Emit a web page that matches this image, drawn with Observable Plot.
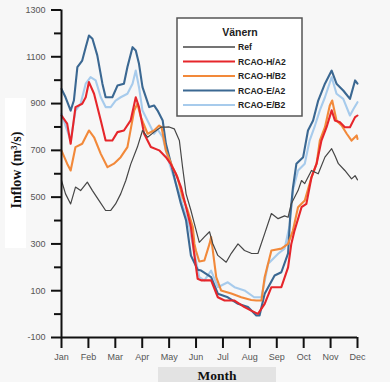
<!DOCTYPE html>
<html><head><meta charset="utf-8">
<script src="https://cdn.jsdelivr.net/npm/d3@7"></script>
<script src="https://cdn.jsdelivr.net/npm/@observablehq/plot@0.6"></script>
<style>
html,body{margin:0;padding:0;background:#f7f7f7;}
#chart{width:390px;height:382px;overflow:hidden;}
</style></head><body><div id="chart"></div>
<script>
const months = ["Jan","Feb","Mar","Apr","May","Jun","Jul","Aug","Sep","Oct","Nov","Dec"];
const yMajorTicks = [-100,100,300,500,700,900,1100,1300];
const yMinorTicks = [0,200,400,600,800,1000,1200];
const legendTitle = "Vänern";
const seriesNames = ["Ref","RCAO-H/A2","RCAO-H/B2","RCAO-E/A2","RCAO-E/B2"];
const seriesColors = ["#464646","#e6262b","#f2893a","#3b6892","#a7cbec"];

// [month position (0 = Jan), inflow m3/s]
const refSeries = [[0,571],[0.15,514],[0.34,471],[0.52,543],[0.71,528],[0.96,564],[1.15,528],[1.39,486],[1.64,443],[1.83,443],[2.01,471],[2.2,514],[2.39,571],[2.57,640],[2.82,714],[3.01,785],[3.2,756],[3.44,778],[3.69,799],[3.88,799],[4.0,800],[4.19,792],[4.38,742],[4.5,628],[4.63,514],[4.81,443],[4.94,386],[5.12,307],[5.31,330],[5.5,352],[5.62,302],[5.81,251],[6.12,222],[6.31,260],[6.56,300],[6.8,272],[7.05,260],[7.3,259],[7.55,344],[7.8,430],[8.05,408],[8.29,420],[8.42,414],[8.54,472],[8.79,528],[8.92,571],[9.04,558],[9.29,614],[9.54,600],[9.79,671],[10.04,707],[10.16,678],[10.29,643],[10.53,614],[10.78,578],[10.91,592],[11.0,574]];
const rcaoHA2 = [[0,849],[0.21,814],[0.34,728],[0.52,885],[0.77,899],[0.9,927],[1.02,992],[1.21,942],[1.46,828],[1.64,742],[1.89,742],[2.08,778],[2.32,785],[2.57,828],[2.76,927],[2.88,885],[3.07,771],[3.32,714],[3.63,700],[3.88,671],[4.07,640],[4.25,600],[4.44,543],[4.63,457],[4.81,372],[4.94,250],[5.06,151],[5.19,144],[5.56,144],[5.81,72],[6.06,58],[6.43,58],[6.8,30],[7.05,15],[7.3,1],[7.55,44],[7.8,115],[8.17,115],[8.42,200],[8.54,300],[8.66,357],[8.92,457],[9.1,471],[9.29,585],[9.48,643],[9.66,742],[9.85,799],[10.04,871],[10.16,828],[10.35,820],[10.53,799],[10.72,799],[10.91,842],[11.0,849]];
const rcaoHB2 = [[0,699],[0.21,643],[0.34,614],[0.52,714],[0.77,728],[1.02,785],[1.21,756],[1.46,685],[1.71,628],[1.95,643],[2.2,671],[2.45,714],[2.7,870],[2.82,899],[2.95,842],[3.2,771],[3.44,785],[3.63,806],[3.72,799],[3.88,699],[4.13,628],[4.31,585],[4.5,500],[4.69,443],[4.88,372],[4.94,300],[5.0,270],[5.12,225],[5.31,229],[5.5,300],[5.56,329],[5.75,158],[5.93,101],[6.31,88],[6.68,72],[7.05,60],[7.24,58],[7.43,58],[7.55,158],[7.8,272],[8.17,280],[8.42,300],[8.6,357],[8.79,457],[9.04,486],[9.29,585],[9.48,643],[9.6,742],[9.79,799],[9.97,892],[10.06,913],[10.22,828],[10.41,806],[10.6,771],[10.78,742],[10.97,764],[11.0,749]];
const rcaoEA2 = [[0,963],[0.15,927],[0.34,870],[0.46,913],[0.59,1056],[0.77,1084],[0.9,1141],[1.02,1191],[1.15,1177],[1.33,1106],[1.52,985],[1.64,927],[1.89,927],[2.08,977],[2.32,985],[2.45,1056],[2.64,1141],[2.76,1127],[2.88,1070],[3.01,970],[3.26,885],[3.44,892],[3.57,870],[3.76,828],[3.88,728],[4.07,643],[4.25,557],[4.44,471],[4.63,400],[4.81,250],[5.06,190],[5.19,186],[5.56,158],[5.81,87],[6.18,72],[6.56,44],[6.93,30],[7.24,-6],[7.36,-6],[7.55,87],[7.92,165],[8.17,179],[8.42,260],[8.5,420],[8.6,540],[8.73,643],[8.98,671],[9.16,785],[9.35,828],[9.54,913],[9.79,985],[10.04,1041],[10.22,985],[10.47,956],[10.72,920],[10.91,999],[11.0,985]];
const rcaoEB2 = [[0,856],[0.21,785],[0.34,742],[0.52,870],[0.71,899],[0.9,985],[1.08,1013],[1.27,999],[1.46,927],[1.64,885],[1.83,885],[2.01,913],[2.2,927],[2.45,942],[2.64,985],[2.76,1041],[2.88,970],[3.01,870],[3.26,813],[3.44,771],[3.57,790],[3.76,756],[3.94,671],[4.13,600],[4.38,514],[4.56,443],[4.75,372],[4.94,260],[5.12,158],[5.31,144],[5.56,186],[5.81,115],[6.18,136],[6.43,115],[6.8,101],[7.16,72],[7.43,72],[7.68,215],[8.05,258],[8.29,280],[8.48,380],[8.6,530],[8.79,614],[9.04,643],[9.22,742],[9.4,799],[9.6,871],[9.79,927],[10.04,1013],[10.22,942],[10.47,920],[10.72,849],[10.85,877],[11.0,906]];

const seriesData = [refSeries, rcaoHA2, rcaoHB2, rcaoEA2, rcaoEB2];
const rows = [];
seriesData.forEach((s, i) => s.forEach(([m, v]) => rows.push({series: seriesNames[i], month: m, value: v})));

const drawOrder = [4, 3, 2, 1, 0];
const widths = {"Ref": 1.2};

const plot = Plot.plot({
  width: 390, height: 382,
  marginLeft: 61, marginRight: 33, marginTop: 9.5, marginBottom: 45,
  style: {background: "transparent", fontFamily: "'Liberation Sans', Arial, sans-serif", fontSize: "9px", overflow: "visible"},
  x: {domain: [0, 11], axis: null, label: null},
  y: {domain: [-100, 1300], axis: null, label: null},
  marks: [
    Plot.axisY({ticks: yMajorTicks, tickSize: 10, tickPadding: 6, stroke: "#111", strokeWidth: 2, fill: "#555", label: null, tickFormat: d => String(d)}),
    Plot.axisY({ticks: yMinorTicks, tickSize: 7, stroke: "#111", strokeWidth: 2, fill: "none", label: null}),
    Plot.axisX({ticks: d3.range(12), tickSize: 11, tickPadding: 5, stroke: "#111", strokeWidth: 2, fill: "#555", tickFormat: i => months[i], label: null}),
    ...drawOrder.map(i => Plot.line(rows.filter(d => d.series === seriesNames[i]), {
      x: "month", y: "value", stroke: seriesColors[i], strokeWidth: widths[seriesNames[i]] || 2.1, strokeLinejoin: "round"
    })),
    Plot.ruleX([0], {y1: -100, y2: 1300, stroke: "#111", strokeWidth: 2}),
    Plot.ruleY([-100], {x1: 0, x2: 11, stroke: "#111", strokeWidth: 2})
  ]
});
document.getElementById("chart").appendChild(plot);

const svg = d3.select(plot);
// decorations behind
const bg = svg.insert("g", ":first-child");
bg.append("rect").attr("x", 5).attr("y", 98).attr("width", 21).attr("height", 150).attr("fill", "#ffffff");
bg.append("rect").attr("x", 158).attr("y", 367).attr("width", 118).attr("height", 15).attr("fill", "#e3e3e3");

svg.append("text").attr("transform", "translate(16,170) rotate(-90)")
  .attr("text-anchor", "middle").attr("dominant-baseline", "central")
  .style("font", "bold 14px 'Liberation Serif', 'Times New Roman', serif").attr("fill", "#111")
  .text("Inflow (m³/s)");
svg.append("text").attr("x", 217).attr("y", 380).attr("text-anchor", "middle")
  .style("font", "bold 13.5px 'Liberation Serif', 'Times New Roman', serif").attr("fill", "#111")
  .text("Month");

// legend
const lg = svg.append("g");
lg.append("rect").attr("x", 177).attr("y", 18).attr("width", 125).attr("height", 98)
  .attr("fill", "#ffffff").attr("stroke", "#555").attr("stroke-width", 1.5);
lg.append("text").attr("x", 240).attr("y", 32).attr("text-anchor", "middle").attr("dominant-baseline", "central")
  .style("font", "bold 10.5px 'Liberation Sans', Arial, sans-serif").attr("fill", "#222").text(legendTitle);
seriesNames.forEach((name, i) => {
  const y = 47 + i * 14.5;
  lg.append("line").attr("x1", 183).attr("x2", 235).attr("y1", y).attr("y2", y)
    .attr("stroke", seriesColors[i]).attr("stroke-width", i === 0 ? 1.5 : 2.2);
  lg.append("text").attr("x", 238).attr("y", y).attr("text-anchor", "start").attr("dominant-baseline", "central")
    .style("font", "bold 8.6px 'Liberation Sans', Arial, sans-serif").attr("fill", "#222").text(name);
});
</script></body></html>
